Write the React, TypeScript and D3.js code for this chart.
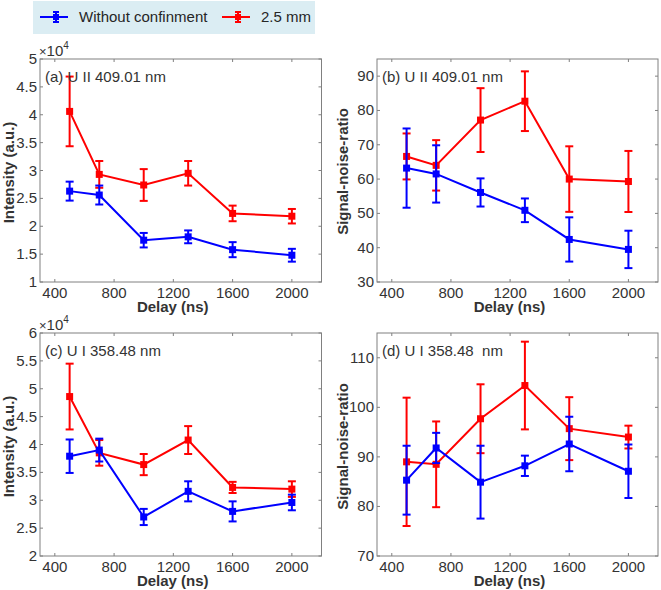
import React from "react";
import * as d3 from "d3";

const delays = [500, 700, 1000, 1300, 1600, 2000];
const xTicks = [400, 800, 1200, 1600, 2000];

// Panel (a) Intensity U II 409.01 nm (×10^4)
const aBlue = [2.63, 2.56, 1.75, 1.81, 1.58, 1.48];
const aBlueErr = [0.17, 0.17, 0.13, 0.115, 0.135, 0.115];
const aRed = [4.06, 2.93, 2.74, 2.95, 2.23, 2.18];
const aRedErr = [0.625, 0.24, 0.285, 0.22, 0.14, 0.13];
const aTicks = [1, 1.5, 2, 2.5, 3, 3.5, 4, 4.5, 5];

// Panel (b) SNR U II 409.01 nm
const bBlue = [63.2, 61.5, 56.1, 50.9, 42.4, 39.5];
const bBlueErr = [11.55, 8.35, 4.1, 3.45, 6.45, 5.45];
const bRed = [66.6, 64.0, 77.2, 82.7, 60.0, 59.3];
const bRedErr = [6.7, 7.35, 9.3, 8.7, 9.55, 8.9];
const bTicks = [30, 40, 50, 60, 70, 80, 90];

// Panel (c) Intensity U I 358.48 nm (×10^4)
const cBlue = [3.79, 3.9, 2.7, 3.16, 2.8, 2.96];
const cBlueErr = [0.3, 0.205, 0.145, 0.18, 0.18, 0.14];
const cRed = [4.86, 3.85, 3.64, 4.08, 3.23, 3.2];
const cRedErr = [0.59, 0.23, 0.19, 0.25, 0.1, 0.14];
const cTicks = [2, 2.5, 3, 3.5, 4, 4.5, 5, 5.5, 6];

// Panel (d) SNR U I 358.48 nm
const dBlue = [85.3, 91.8, 84.9, 88.2, 92.6, 87.1];
const dBlueErr = [6.95, 3.05, 7.35, 2.05, 5.5, 5.4];
const dRed = [89.0, 88.5, 97.7, 104.4, 95.7, 94.0];
const dRedErr = [12.95, 8.65, 6.95, 8.85, 6.35, 2.3];
const dTicks = [70, 80, 90, 100, 110];

const seriesNames = ["Without confinment", "2.5 mm"];
const BLUE = "#0000ff";
const RED = "#ff0000";
const FONT = "Arial, 'Liberation Sans', sans-serif";
const AXIS = "#808080";
const TXT = "#333333";

type PanelProps = {
  x0: number; x1: number; y0: number; y1: number;
  yDomain: [number, number]; yTicks: number[];
  blue: number[]; blueErr: number[]; red: number[]; redErr: number[];
  label: string; yLabel: string; multiplier?: boolean;
  yLabelX: number; yLabelShift?: number;
};

function Series({ xs, ys, vals, errs, color }: any) {
  const line = d3.line<number>().x((_, i) => xs(delays[i])).y((v) => ys(v));
  const cap = 4;
  const m = 3.5;
  return (
    <g>
      <path d={line(vals) || ""} fill="none" stroke={color} strokeWidth={2} />
      {vals.map((v: number, i: number) => {
        const cx = xs(delays[i]);
        const top = ys(v + errs[i]);
        const bot = ys(v - errs[i]);
        return (
          <g key={i} stroke={color} strokeWidth={2}>
            <line x1={cx} x2={cx} y1={top} y2={bot} />
            <line x1={cx - cap} x2={cx + cap} y1={top} y2={top} />
            <line x1={cx - cap} x2={cx + cap} y1={bot} y2={bot} />
            <rect x={cx - m} y={ys(v) - m} width={2 * m} height={2 * m} fill={color} stroke="none" />
          </g>
        );
      })}
    </g>
  );
}

function Panel(p: PanelProps) {
  const xs = d3.scaleLinear().domain([300, 2200]).range([p.x0, p.x1]);
  const ys = d3.scaleLinear().domain(p.yDomain).range([p.y1, p.y0]);
  const tl = 3;
  const fmt = (v: number) => String(v);
  return (
    <g fontFamily={FONT}>
      <rect x={p.x0} y={p.y0} width={p.x1 - p.x0} height={p.y1 - p.y0} fill="white" />
      {xTicks.map((t) => (
        <g key={"x" + t} stroke={AXIS}>
          <line x1={xs(t)} x2={xs(t)} y1={p.y1} y2={p.y1 - tl} />
          <line x1={xs(t)} x2={xs(t)} y1={p.y0} y2={p.y0 + tl} />
        </g>
      ))}
      {p.yTicks.map((t) => (
        <g key={"y" + t} stroke={AXIS}>
          <line x1={p.x0} x2={p.x0 + tl} y1={ys(t)} y2={ys(t)} />
          <line x1={p.x1} x2={p.x1 - tl} y1={ys(t)} y2={ys(t)} />
        </g>
      ))}
      <Series xs={xs} ys={ys} vals={p.red} errs={p.redErr} color={RED} />
      <Series xs={xs} ys={ys} vals={p.blue} errs={p.blueErr} color={BLUE} />
      <rect x={p.x0} y={p.y0} width={p.x1 - p.x0} height={p.y1 - p.y0} fill="none" stroke={AXIS} strokeWidth={1} />
      {xTicks.map((t) => (
        <text key={"xl" + t} x={xs(t)} y={p.y1 + 16} textAnchor="middle" fontSize={15} fill={TXT}>{t}</text>
      ))}
      {p.yTicks.map((t) => (
        <text key={"yl" + t} x={p.x0 - 3} y={ys(t) + 5} textAnchor="end" fontSize={15} fill={TXT}>{fmt(t)}</text>
      ))}
      {p.multiplier && (
        <text x={p.x0 - 1} y={p.y0 - 3} fontSize={15} fill={TXT}>
          <tspan fontSize={13}>×</tspan>10<tspan fontSize={10} dy={-7}>4</tspan>
        </text>
      )}
      <text x={p.x0 + 5} y={p.y0 + 23} fontSize={15} fill={TXT} style={{ whiteSpace: "pre" }}>{p.label}</text>
      <text x={(p.x0 + p.x1) / 2 - 8} y={p.y1 + 30} textAnchor="middle" fontSize={15} fontWeight="bold" fill={TXT}>Delay (ns)</text>
      <text
        transform={`translate(${p.yLabelX},${(p.y0 + p.y1) / 2 + (p.yLabelShift || 0)}) rotate(-90)`}
        textAnchor="middle" fontSize={15} fontWeight="bold" fill={TXT}
      >{p.yLabel}</text>
    </g>
  );
}

function LegendItem({ x, color, text }: any) {
  const cy = 17;
  return (
    <g>
      <line x1={x} x2={x + 28} y1={cy} y2={cy} stroke={color} strokeWidth={2} />
      <line x1={x + 16} x2={x + 16} y1={cy - 5} y2={cy + 5} stroke={color} strokeWidth={2} />
      <line x1={x + 13} x2={x + 19} y1={cy - 5} y2={cy - 5} stroke={color} strokeWidth={2} />
      <line x1={x + 13} x2={x + 19} y1={cy + 5} y2={cy + 5} stroke={color} strokeWidth={2} />
      <rect x={x + 13} y={cy - 3} width={6} height={6} fill={color} />
      <text x={x + 39} y={cy + 5} fontSize={15} fill="#262626" fontFamily={FONT}>{text}</text>
    </g>
  );
}

export default function App() {
  return (
    <svg width={661} height={590} style={{ position: "absolute", left: 0, top: 0 }}>
      <rect width={661} height={590} fill="white" />
      <rect x={33} y={1} width={282} height={33} fill="#dbedf3" />
      <LegendItem x={40} color={BLUE} text={seriesNames[0]} />
      <LegendItem x={222} color={RED} text={seriesNames[1]} />
      <Panel x0={40} x1={321.5} y0={59} y1={282} yDomain={[1, 5]} yTicks={aTicks}
        blue={aBlue} blueErr={aBlueErr} red={aRed} redErr={aRedErr}
        label="(a) U II 409.01 nm" yLabel="Intensity (a.u.)" multiplier yLabelX={14} yLabelShift={2} />
      <Panel x0={377} x1={658} y0={59} y1={282} yDomain={[30, 95]} yTicks={bTicks}
        blue={bBlue} blueErr={bBlueErr} red={bRed} redErr={bRedErr}
        label="(b) U II 409.01 nm" yLabel="Signal-noise-ratio" yLabelX={348} yLabelShift={1} />
      <Panel x0={40} x1={321.5} y0={333} y1={556} yDomain={[2, 6]} yTicks={cTicks}
        blue={cBlue} blueErr={cBlueErr} red={cRed} redErr={cRedErr}
        label="(c) U I 358.48 nm" yLabel="Intensity (a.u.)" multiplier yLabelX={14} yLabelShift={2} />
      <Panel x0={377} x1={658} y0={333} y1={556} yDomain={[70, 115]} yTicks={dTicks}
        blue={dBlue} blueErr={dBlueErr} red={dRed} redErr={dRedErr}
        label="(d) U I 358.48  nm" yLabel="Signal-noise-ratio" yLabelX={348} yLabelShift={2} />
    </svg>
  );
}
